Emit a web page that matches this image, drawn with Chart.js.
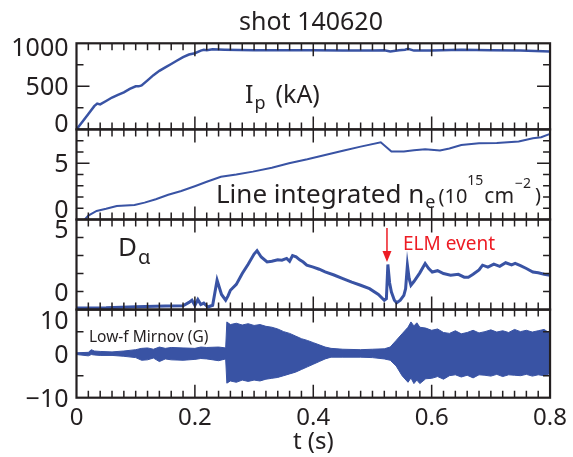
<!DOCTYPE html>
<html lang="en">

<head>
    <meta charset="UTF-8">
    <title>shot 140620</title>
    <script src="https://cdn.jsdelivr.net/npm/chart.js"></script>
    <style>
        body {
            margin: 0;
            padding: 0;
            background: white;
        }

        .chart-box {
            position: relative;
            width: 573px;
            height: 457px;
        }
    </style>
</head>

<body>
    <div class="chart-box">
        <canvas id="shotChart"></canvas>
    </div>
    <script>
        // plasma current Ip (kA)
        const tIp = [0, 0.01, 0.02, 0.03, 0.035, 0.04, 0.05, 0.06, 0.07, 0.08, 0.09, 0.1, 0.105, 0.11, 0.12, 0.13, 0.14, 0.15, 0.16, 0.17, 0.18, 0.19, 0.2, 0.21, 0.215, 0.22, 0.23, 0.25, 0.3, 0.35, 0.4, 0.45, 0.5, 0.52, 0.53, 0.545, 0.555, 0.56, 0.57, 0.6, 0.65, 0.7, 0.75, 0.8];
        const ipVals = [0, 90, 180, 270, 300, 290, 330, 370, 400, 430, 470, 500, 500, 510, 570, 630, 680, 720, 760, 800, 840, 870, 885, 915, 925, 920, 930, 925, 920, 918, 918, 915, 915, 918, 905, 920, 925, 935, 915, 915, 925, 920, 915, 905];

        // line integrated density (1e15 cm^-2)
        const tNe = [0.014, 0.02, 0.034, 0.05, 0.068, 0.098, 0.115, 0.134, 0.155, 0.177, 0.201, 0.22, 0.244, 0.27, 0.298, 0.33, 0.359, 0.39, 0.42, 0.45, 0.48, 0.514, 0.532, 0.553, 0.57, 0.589, 0.614, 0.63, 0.65, 0.68, 0.71, 0.747, 0.771, 0.785, 0.8];
        const neVals = [0, 0.35, 0.76, 0.95, 1.2, 1.29, 1.5, 1.8, 2.2, 2.53, 2.98, 3.35, 3.8, 4.0, 4.25, 4.6, 5.0, 5.35, 5.73, 6.1, 6.47, 6.86, 6.03, 6.03, 6.15, 6.24, 6.12, 6.3, 6.62, 6.77, 6.8, 6.92, 7.22, 7.3, 7.6];

        // D-alpha
        const tDa = [0, 0.05, 0.1, 0.15, 0.18, 0.19, 0.195, 0.2, 0.205, 0.21, 0.215, 0.222, 0.23, 0.2375, 0.245, 0.252, 0.256, 0.26, 0.27, 0.28, 0.29, 0.3, 0.305, 0.312, 0.322, 0.33, 0.34, 0.347, 0.355, 0.36, 0.365, 0.371, 0.377, 0.383, 0.389, 0.4, 0.41, 0.42, 0.435, 0.45, 0.465, 0.48, 0.495, 0.51, 0.52, 0.5235, 0.526, 0.529, 0.532, 0.537, 0.541, 0.547, 0.553, 0.556, 0.559, 0.562, 0.565, 0.57, 0.58, 0.589, 0.595, 0.601, 0.61, 0.62, 0.632, 0.645, 0.655, 0.662, 0.67, 0.68, 0.686, 0.695, 0.705, 0.715, 0.725, 0.735, 0.741, 0.75, 0.76, 0.771, 0.78, 0.79, 0.8];
        const daVals = [-1.14, -1.12, -1.05, -1.0, -0.98, -0.75, -0.6, -0.95, -0.55, -0.9, -0.8, -1.07, -0.95, 0.79, -0.2, -0.6, -0.3, 0.09, 0.5, 1.25, 1.9, 2.6, 2.83, 2.4, 2.06, 2.1, 2.2, 2.18, 2.3, 2.1, 2.5, 2.41, 2.2, 2.05, 1.83, 1.7, 1.55, 1.36, 1.15, 0.9, 0.65, 0.44, 0.2, -0.2, -0.6, -0.5, 1.88, 0.6, -0.03, -0.6, -0.77, -0.6, -0.26, 0.2, 1.83, 0.9, 0.44, 0.7, 1.3, 1.95, 1.6, 1.36, 1.45, 1.25, 1.13, 1.2, 1.0, 1.0, 1.2, 1.5, 1.83, 1.7, 1.9, 1.75, 2.0, 1.85, 1.95, 1.8, 1.6, 1.36, 1.3, 1.2, 1.13];

        // low-f Mirnov (G), drawn as its envelope
        const tMir = [0, 0.02, 0.025, 0.03, 0.04, 0.06, 0.08, 0.1, 0.11, 0.12, 0.13, 0.14, 0.15, 0.16, 0.18, 0.2, 0.21, 0.22, 0.24, 0.252, 0.254, 0.26, 0.27, 0.28, 0.29, 0.3, 0.31, 0.32, 0.33, 0.34, 0.35, 0.36, 0.37, 0.38, 0.39, 0.4, 0.41, 0.42, 0.43, 0.45, 0.48, 0.5, 0.52, 0.53, 0.54, 0.55, 0.56, 0.565, 0.57, 0.575, 0.58, 0.59, 0.6, 0.61, 0.62, 0.63, 0.64, 0.65, 0.66, 0.67, 0.68, 0.69, 0.7, 0.71, 0.72, 0.73, 0.74, 0.75, 0.76, 0.77, 0.78, 0.79, 0.8];
        const mirUpper = [0.2, 0.3, 0.9, 0.6, 0.5, 0.4, 0.6, 0.9, 1.2, 1.3, 1.0, 1.5, 1.2, 1.4, 1.3, 1.2, 1.5, 1.4, 1.5, 1.3, 7.2, 6.6, 6.9, 6.5, 6.8, 6.4, 6.6, 6.2, 6.0, 5.6, 5.0, 4.6, 4.0, 3.4, 3.0, 2.5, 2.0, 1.5, 1.2, 1.0, 0.9, 1.0, 1.1, 1.5, 3.0, 4.5, 6.0, 7.2, 6.3, 7.0, 6.0, 5.8, 5.3, 5.6, 4.8, 4.6, 5.2, 4.5, 4.8, 5.3, 4.7, 5.0, 5.4, 4.9, 5.2, 4.8, 5.5, 5.0, 5.3, 4.9, 5.2, 5.5, 4.6];
        const mirLower = [-0.2, -0.5, -0.2, -0.3, -0.4, -0.4, -0.6, -0.9, -1.5, -1.4, -1.0, -1.8, -1.2, -1.4, -1.5, -1.3, -1.1, -1.2, -1.6, -1.2, -6.7, -6.2, -6.5, -6.0, -6.3, -6.0, -6.2, -5.8, -5.6, -5.4, -5.0, -4.6, -4.2, -3.6, -3.0, -2.4, -1.8, -1.2, -0.8, -0.8, -0.8, -0.9, -1.2, -1.5, -2.8, -5.0, -6.5, -5.5, -6.8, -6.0, -6.8, -5.7, -5.6, -5.2, -5.8, -5.0, -4.8, -5.3, -4.9, -5.5, -4.8, -4.9, -5.1, -4.7, -5.2, -4.8, -4.9, -5.0, -4.7, -5.1, -4.8, -5.0, -4.5];

        // tick labels
        const xTickLabels = [0, 0.2, 0.4, 0.6, 0.8];
        const ipTickLabels = [0, 500, 1000];
        const neTickLabels = [0, 5];
        const daTickLabels = [0, 5];
        const mirTickLabels = [-10, 0, 10];

        const blue = '#3953a4';
        const ink = '#231f20';
        const fontFamily = '"Noto Sans", sans-serif';

        const pts = (ts, vs) => ts.map((t, i) => ({ x: t, y: vs[i] }));

        const panels = [
            { id: 'yA', labels: ipTickLabels, minor: [250, 750], major: [500], topShift: 4, bottomShift: -6 },
            { id: 'yB', labels: neTickLabels, minor: [1, 2, 3, 4, 6, 7], major: [5], topShift: 10, bottomShift: -10 },
            { id: 'yC', labels: daTickLabels, minor: [0, 1.25, 2.5, 3.75], major: [], topShift: 10, bottomShift: -10 },
            { id: 'yD', labels: mirTickLabels, minor: [-5, 5], major: [], topShift: 10, bottomShift: 0 }
        ];

        function fmt(v) {
            return v < 0 ? '\u2212' + Math.abs(v) : String(v);
        }

        // draws a run of text pieces: [text, size, dx, dy]
        function drawRun(ctx, x, y, parts, color) {
            ctx.fillStyle = color;
            ctx.textBaseline = 'alphabetic';
            ctx.textAlign = 'left';
            parts.forEach(p => {
                ctx.font = p[1] + 'px ' + fontFamily;
                ctx.fillText(p[0], x + (p[2] || 0), y + (p[3] || 0));
                x += (p[2] || 0) + ctx.measureText(p[0]).width;
            });
        }

        const framePlugin = {
            id: 'frames',
            afterDatasetsDraw(chart) {
                const ctx = chart.ctx;
                const xs = chart.scales.x;
                const left = chart.chartArea.left;
                const right = chart.chartArea.right;
                ctx.save();
                ctx.strokeStyle = ink;
                panels.forEach(p => {
                    const s = chart.scales[p.id];
                    // x ticks top and bottom
                    ctx.lineWidth = 1.5;
                    ctx.beginPath();
                    for (let i = 1; i < 40; i++) {
                        const px = xs.getPixelForValue(i * 0.02);
                        const len = i % 10 === 0 ? 13 : 7;
                        ctx.moveTo(px, s.top);
                        ctx.lineTo(px, s.top + len);
                        ctx.moveTo(px, s.bottom);
                        ctx.lineTo(px, s.bottom - len);
                    }
                    const yt = p.minor.map(v => [v, 7]).concat(p.major.map(v => [v, 13]));
                    yt.forEach(([v, len]) => {
                        const py = s.getPixelForValue(v);
                        ctx.moveTo(left, py);
                        ctx.lineTo(left + len, py);
                        ctx.moveTo(right, py);
                        ctx.lineTo(right - len, py);
                    });
                    ctx.stroke();
                    ctx.lineWidth = 2.2;
                    ctx.strokeRect(left, s.top, right - left, s.bottom - s.top);

                    // y labels
                    ctx.fillStyle = ink;
                    ctx.font = '25px ' + fontFamily;
                    ctx.textAlign = 'right';
                    ctx.textBaseline = 'alphabetic';
                    p.labels.forEach(v => {
                        let py = s.getPixelForValue(v);
                        if (Math.abs(py - s.top) < 1) py += p.topShift;
                        if (Math.abs(py - s.bottom) < 1) py += p.bottomShift;
                        ctx.fillText(fmt(v), left - 8, py + 9);
                    });
                });
                ctx.restore();
            },
            afterDraw(chart) {
                const ctx = chart.ctx;
                ctx.save();
                // title
                ctx.fillStyle = ink;
                ctx.font = '25px ' + fontFamily;
                ctx.textAlign = 'center';
                ctx.textBaseline = 'alphabetic';
                ctx.fillText('shot 140620', 311, 30);

                drawRun(ctx, 245, 103, [['I', 25], ['p', 18, 1, 6], ['(kA)', 25, 10]], ink);
                drawRun(ctx, 216, 203, [['Line integrated n', 26], ['e', 18, 1, 5], ['(10', 20, 3], ['15', 14, 0, -18], ['cm', 21, 1], ['\u22122', 14, 1, -15], [')', 20, 4, -1]], ink);
                drawRun(ctx, 118, 256, [['D', 26], ['\u03b1', 20, 1, 8]], ink);
                drawRun(ctx, 403, 250, [['ELM event', 19]], '#ed1c24');
                drawRun(ctx, 89, 342, [['Low-f Mirnov (G)', 15.5]], ink);

                // ELM arrow
                const ax = chart.scales.x.getPixelForValue(0.5245);
                ctx.strokeStyle = '#ed1c24';
                ctx.fillStyle = '#ed1c24';
                ctx.lineWidth = 1.5;
                ctx.beginPath();
                ctx.moveTo(ax, 228);
                ctx.lineTo(ax, 254);
                ctx.stroke();
                ctx.beginPath();
                ctx.moveTo(ax - 4.5, 251);
                ctx.lineTo(ax + 4.5, 251);
                ctx.lineTo(ax, 262);
                ctx.closePath();
                ctx.fill();
                ctx.restore();
            }
        };

        const hiddenY = (min, max, weight) => ({
            type: 'linear',
            position: 'left',
            stack: 'panels',
            stackWeight: weight,
            min: min,
            max: max,
            grid: { display: false, drawTicks: false },
            border: { display: false },
            ticks: { display: false },
            afterFit: s => { s.width = 0; }
        });

        new Chart(document.getElementById('shotChart'), {
            type: 'line',
            data: {
                datasets: [
                    { data: pts(tIp, ipVals), yAxisID: 'yA', borderColor: blue, borderWidth: 2.5, pointRadius: 0, fill: false },
                    { data: pts(tNe, neVals), yAxisID: 'yB', borderColor: blue, borderWidth: 2, pointRadius: 0, fill: false },
                    { data: pts(tDa, daVals), yAxisID: 'yC', borderColor: blue, borderWidth: 3, pointRadius: 0, fill: false },
                    { data: pts(tMir, mirUpper), yAxisID: 'yD', borderColor: blue, backgroundColor: blue, borderWidth: 1, pointRadius: 0, fill: '+1' },
                    { data: pts(tMir, mirLower), yAxisID: 'yD', borderColor: blue, borderWidth: 1, pointRadius: 0, fill: false }
                ]
            },
            options: {
                responsive: true,
                maintainAspectRatio: false,
                animation: false,
                layout: { padding: { top: 43.3, left: 76.5, right: 15.7, bottom: 0 } },
                plugins: {
                    legend: { display: false },
                    tooltip: { enabled: false }
                },
                scales: {
                    x: {
                        type: 'linear',
                        position: 'bottom',
                        min: 0,
                        max: 0.8,
                        grid: { display: false, drawTicks: false },
                        border: { display: false },
                        afterBuildTicks: s => { s.ticks = xTickLabels.map(v => ({ value: v })); },
                        ticks: {
                            color: ink,
                            padding: 6,
                            maxRotation: 0,
                            font: { family: fontFamily, size: 24 },
                            callback: v => String(v)
                        },
                        title: {
                            display: true,
                            text: 't (s)',
                            color: ink,
                            padding: { top: 0, bottom: 0 },
                            font: { family: fontFamily, size: 24 }
                        },
                        afterFit: s => { s.height = 59.3; }
                    },
                    yD: hiddenY(-10, 10, 88),
                    yC: hiddenY(-1.25, 5, 90),
                    yB: hiddenY(0, 8, 90),
                    yA: hiddenY(0, 1000, 86)
                }
            },
            plugins: [framePlugin]
        });
    </script>
</body>

</html>
